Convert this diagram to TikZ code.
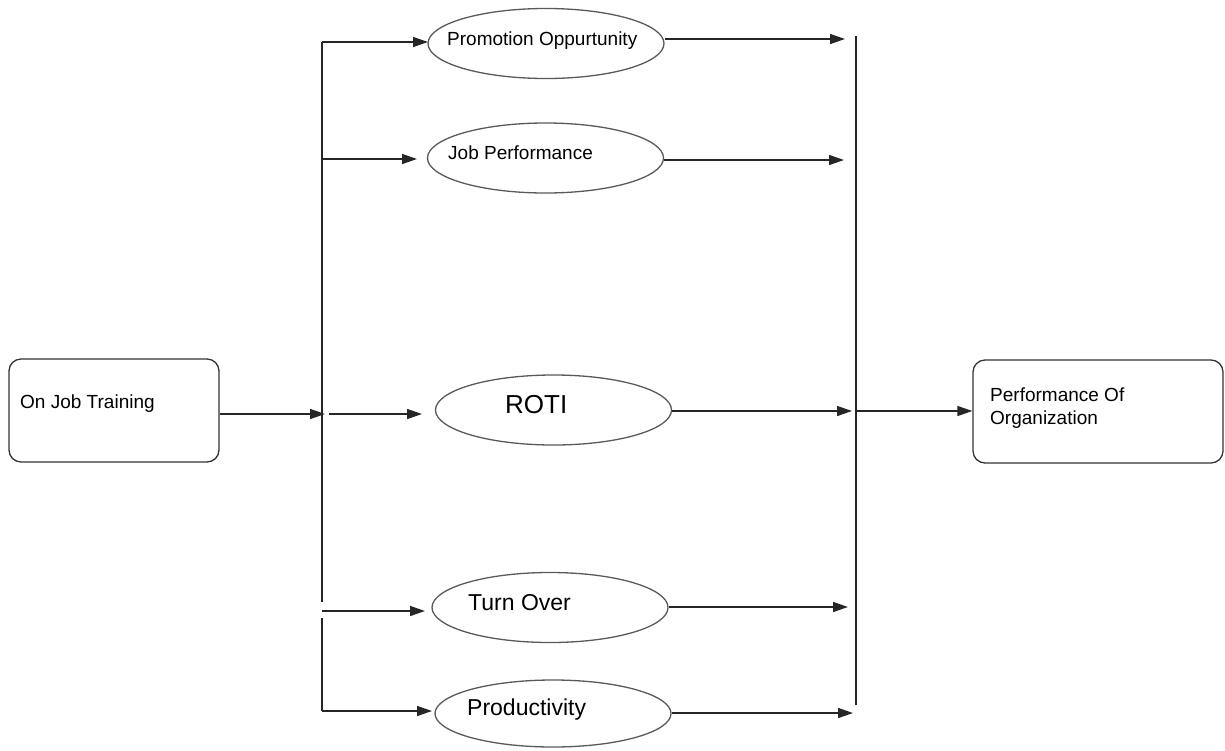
\documentclass[tikz,border=0pt]{standalone}
\usepackage{fontspec}
\setmainfont{Liberation Sans}
\usetikzlibrary{arrows.meta,shapes.geometric}
\begin{document}
\begin{tikzpicture}[x=1pt,y=-1pt,
  line/.style={draw=black!85, line width=1.4pt},
  arr/.style={line, -{Triangle[length=15pt,width=10pt]}},
  oval/.style={ellipse, draw=black!65, line width=1.3pt, minimum width=236pt, minimum height=70pt, inner sep=0pt},
  roundbox/.style={draw=black!80, line width=1.3pt, rounded corners=12pt, minimum height=103pt, inner sep=0pt},
  lbl/.style={anchor=base west, inner sep=0pt, font=\fontsize{19}{23}\selectfont},
  mid/.style={anchor=base west, inner sep=0pt, font=\fontsize{23}{27}\selectfont},
  big/.style={anchor=base west, inner sep=0pt, font=\fontsize{26}{30}\selectfont}]
\useasboundingbox (0,0) rectangle (1225,750);

% source and target boxes
\node[roundbox, minimum width=210pt] (src) at (114,410.5) {};
\node[lbl] (srct) at (20,408) {On Job Training};
\node[roundbox, minimum width=250pt] (dst) at (1098,411.5) {};
\node[anchor=west, inner sep=0pt, align=left, font=\fontsize{19}{23}\selectfont] (dstt) at (990,408.5) {Performance Of\\Organization};

% the five factors
\node[oval] (e1) at (546,43.5) {};
\node[lbl] (t1) at (447,45) {Promotion Oppurtunity};
\node[oval] (e2) at (545.5,158) {};
\node[lbl] (t2) at (448,159) {Job Performance};
\node[oval] (e3) at (553.5,410) {};
\node[big] (t3) at (505,413) {ROTI};
\node[oval] (e4) at (550,607.5) {};
\node[mid] (t4) at (468,610) {Turn Over};
\node[oval, minimum height=67pt] (e5) at (553,713.5) {};
\node[mid] (t5) at (467,715) {Productivity};

% left distribution bar
\coordinate (l1) at (322,42);
\coordinate (l2) at (322,159);
\coordinate (l3) at (322,414);
\coordinate (l3s) at (329,414);
\coordinate (l4a) at (322,602);
\coordinate (l4) at (322,611);
\coordinate (l4b) at (322,618);
\coordinate (l5) at (322,711);
\draw[line] (l1) -- (l4a);
\draw[line] (l4b) -- (l5);

% right collecting bar
\coordinate (r0) at (856,36);
\coordinate (r3) at (856,411);
\coordinate (r6) at (856,705);
\draw[line] (r0) -- (r6);

% arrows into the bar and out to the target
\draw[arr] (src.east |- l3) -- (325,414);
\draw[arr] (r3) -- (dst.west |- r3);

% arrows from the bar to the factors
\draw[arr] (l1) -- (428,42);
\draw[arr] (l2) -- (417,159);
\draw[arr] (l3s) -- (422,414);
\draw[arr] (l4) -- (425,611);
\draw[arr] (l5) -- (432,711);

% arrows from the factors to the right bar
\draw[arr] (e1.east |- 0,39) -- (845,39);
\draw[arr] (e2.east |- 0,160) -- (844,160);
\draw[arr] (e3.east |- 0,411) -- (852,411);
\draw[arr] (e4.east |- 0,607) -- (848,607);
\draw[arr] (e5.east |- 0,713) -- (853,713);
\end{tikzpicture}
\end{document}
